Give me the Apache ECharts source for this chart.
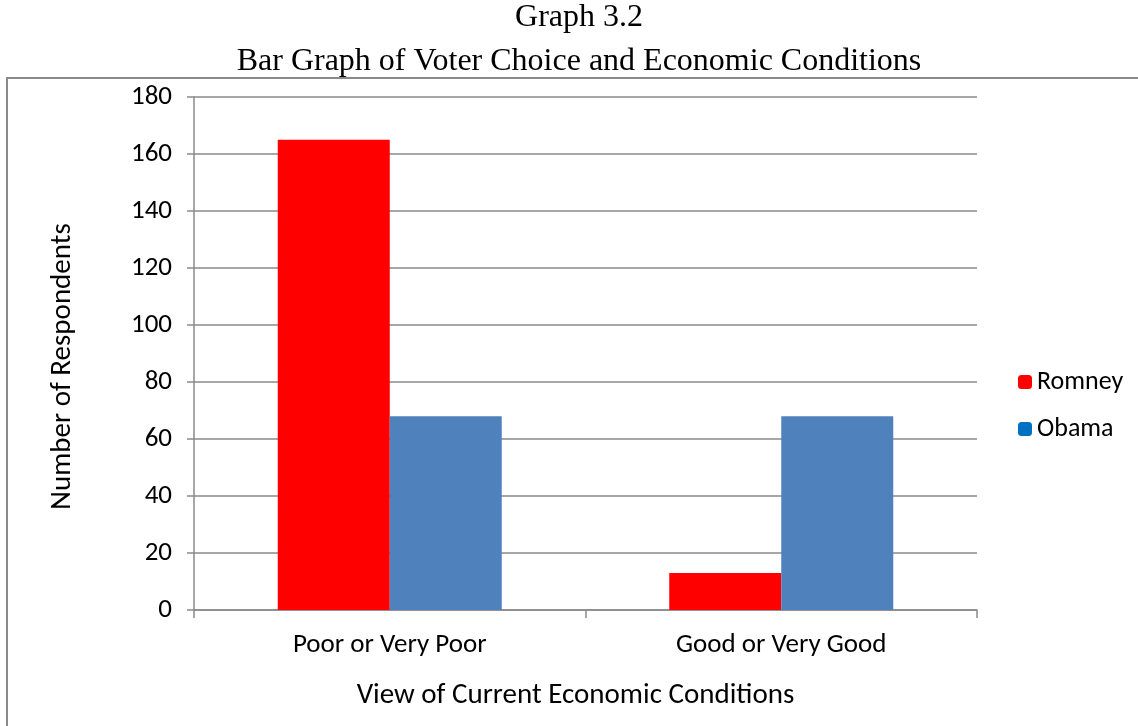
<!DOCTYPE html>
<html><head><meta charset="utf-8">
<script src="https://cdn.jsdelivr.net/npm/echarts@6/dist/echarts.min.js"></script>
<style>html,body{margin:0;padding:0;background:#fff}#c{width:1138px;height:726px}</style>
</head><body><div id="c"></div>
<script>
const categories = ['Poor or Very Poor', 'Good or Very Good'];
const seriesNames = ['Romney', 'Obama'];
const romney = [165, 13];
const obama = [68, 68];
const yTicks = [0, 20, 40, 60, 80, 100, 120, 140, 160, 180];

const chart = echarts.init(document.getElementById('c'), null, {renderer: 'canvas'});
const font = 'Calibri, Carlito, "Open Sans", "Noto Sans", sans-serif';
chart.setOption({
  animation: false,
  backgroundColor: '#fff',
  title: {
    text: 'Graph 3.2\nBar Graph of Voter Choice and Economic Conditions',
    left: 574, textAlign: 'center', top: -9,
    textStyle: {fontFamily: '"Liberation Serif", "Times New Roman", serif', fontWeight: 'normal', fontSize: 32, color: '#000', lineHeight: 44}
  },
  graphic: [{
    type: 'polyline', silent: true,
    shape: {points: [[7, 726], [7, 78], [1138, 78]]},
    style: {stroke: '#8a8a8a', lineWidth: 2, fill: null}
  }],
  legend: {
    orient: 'vertical', left: 1013, top: 364, itemWidth: 14, itemHeight: 14, itemGap: 21,
    textStyle: {fontFamily: font, fontSize: 26, color: '#000'},
    data: [
      {name: seriesNames[0], itemStyle: {color: '#ff0000'}},
      {name: seriesNames[1], itemStyle: {color: '#0070c0'}}
    ]
  },
  grid: {left: 194, right: 161, top: 97, bottom: 116, containLabel: false},
  xAxis: {
    type: 'category', data: categories,
    name: 'View of Current Economic Conditions', nameLocation: 'middle', nameGap: 71,
    nameTextStyle: {fontFamily: font, fontSize: 29, color: '#000', padding: [0, 20, 0, 0]},
    axisLine: {lineStyle: {color: '#8a8a8a', width: 1.5}},
    axisTick: {show: true, length: 8, lineStyle: {color: '#8a8a8a', width: 1.5}},
    axisLabel: {fontFamily: font, fontSize: 27, color: '#000', margin: 22}
  },
  yAxis: {
    type: 'value', min: 0, max: 180, interval: 20,
    name: 'Number of Respondents', nameLocation: 'middle', nameGap: 117, nameRotate: 90,
    nameTextStyle: {fontFamily: font, fontSize: 29, color: '#000', padding: [0, 26, 0, 0]},
    axisLine: {show: true, lineStyle: {color: '#8a8a8a', width: 1.5}},
    axisTick: {show: true, inside: false, length: 7, lineStyle: {color: '#8a8a8a', width: 1.5}},
    axisLabel: {fontFamily: font, fontSize: 27, color: '#000', margin: 22,
      formatter: v => yTicks.includes(v) ? String(v) : ''},
    splitLine: {show: true, lineStyle: {color: '#8a8a8a', width: 1.5}}
  },
  series: [
    {name: seriesNames[0], type: 'bar', data: romney, barWidth: 112, barGap: '0%', itemStyle: {color: '#ff0000'}},
    {name: seriesNames[1], type: 'bar', data: obama, barWidth: 112, barGap: '0%', itemStyle: {color: '#4f81bd'}}
  ]
});
</script></body></html>
